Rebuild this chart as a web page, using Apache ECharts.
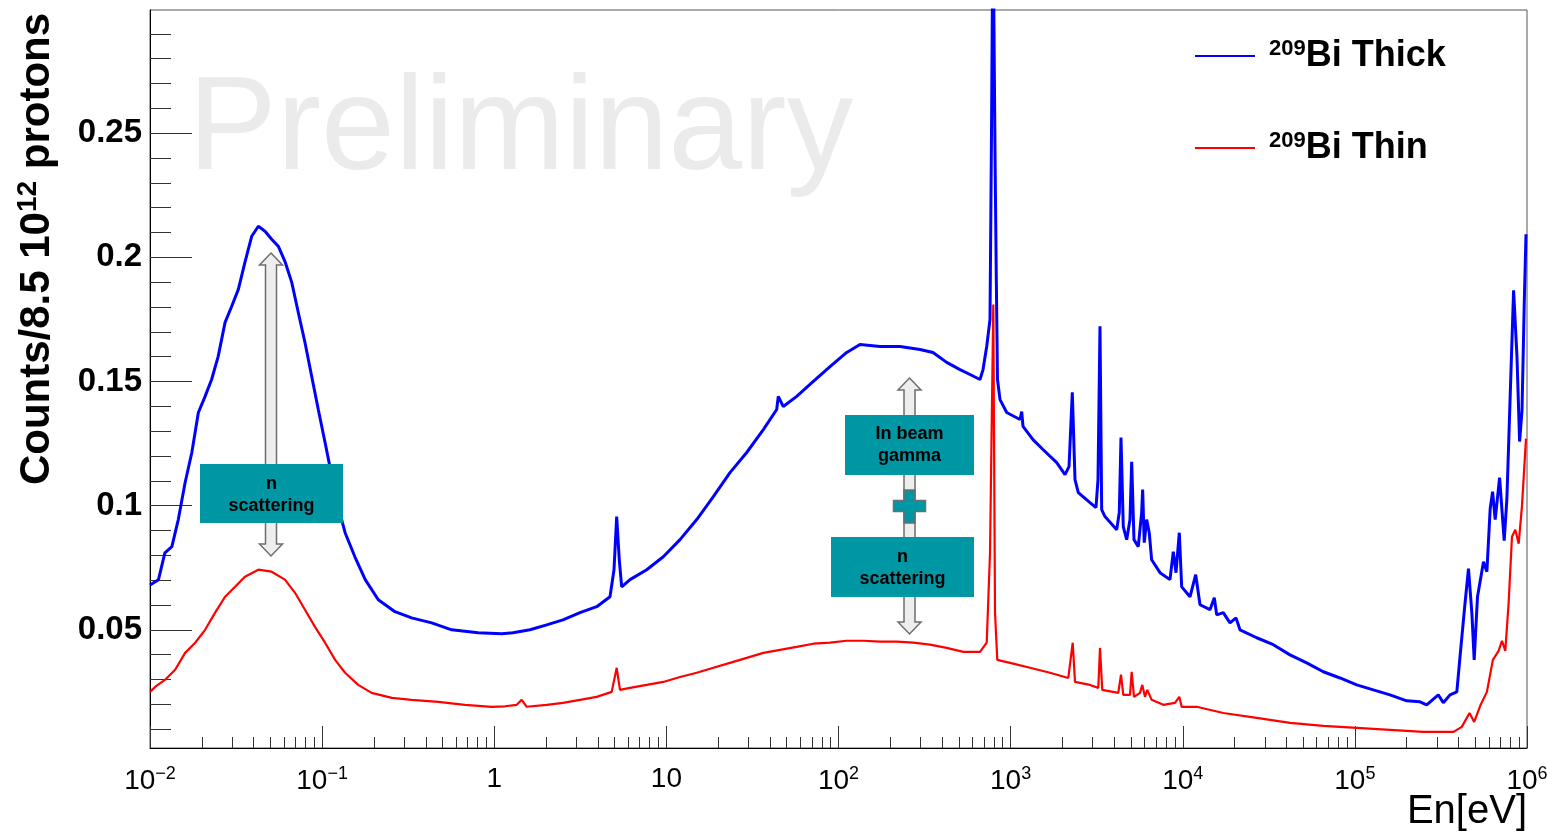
<!DOCTYPE html>
<html>
<head>
<meta charset="utf-8">
<script src="https://cdn.jsdelivr.net/npm/echarts@6/dist/echarts.min.js"></script>
<style>
  html, body { margin: 0; padding: 0; background: #fff; }
  #chart { width: 1547px; height: 838px; }
</style>
</head>
<body>
<div id="chart"></div>
<script>
// energies in eV, counts per 8.5e12 protons
const thickE = [0.01, 0.0112, 0.0122, 0.0134, 0.0146, 0.016, 0.0175, 0.0191, 0.0209, 0.0228, 0.0249, 0.0273, 0.0298, 0.0326, 0.0356, 0.039, 0.0426, 0.0466, 0.0509, 0.0557, 0.0608, 0.0666, 0.0727, 0.0795, 0.087, 0.095, 0.104, 0.114, 0.124, 0.136, 0.155, 0.178, 0.212, 0.265, 0.331, 0.433, 0.566, 0.805, 1.105, 1.285, 1.614, 2.017, 2.508, 3.149, 3.937, 4.704, 4.963, 5.144, 5.326, 5.5, 6.148, 7.686, 9.596, 12.0, 15.01, 18.74, 23.42, 29.29, 36.58, 43.75, 44.69, 47.78, 57.17, 71.4, 89.27, 111.6, 133.3, 174.2, 227.7, 297.4, 354, 425.2, 508, 580.8, 664, 691.2, 726.1, 759, 774.4, 790, 811.5, 825.8, 839, 867.7, 948.9, 1134, 1160, 1180, 1349, 1542, 1853, 2070, 2184, 2282, 2366, 2473, 2892, 3133, 3218, 3305, 3381, 3533, 4133, 4279, 4377, 4514, 4724, 4937, 5050, 5208, 5515, 5771, 5848, 5975, 6170, 6387, 6597, 7377, 8431, 8812, 9138, 9548, 9860, 11020, 11890, 12600, 14400, 15250, 15750, 17200, 18810, 20390, 21510, 26900, 33590, 42000, 52500, 65560, 81950, 102500, 128000, 160000, 200100, 238900, 261400, 305300, 326400, 357000, 391100, 408100, 436200, 457100, 478500, 493400, 515700, 558800, 584800, 611100, 631000, 653300, 693000, 737100, 764200, 799800, 835800, 874800, 905800, 935400, 964500, 986700];
const thickV = [0.068, 0.0702, 0.081, 0.0835, 0.0944, 0.1093, 0.1214, 0.1375, 0.144, 0.1508, 0.1601, 0.1738, 0.1802, 0.1871, 0.198, 0.2085, 0.2125, 0.2105, 0.2073, 0.2044, 0.1984, 0.1899, 0.1778, 0.1657, 0.152, 0.1387, 0.1254, 0.1117, 0.0996, 0.0891, 0.0794, 0.0702, 0.0621, 0.0573, 0.0548, 0.0528, 0.05, 0.0488, 0.0484, 0.0488, 0.05, 0.052, 0.054, 0.0569, 0.0593, 0.0633, 0.0742, 0.0956, 0.0782, 0.0673, 0.0702, 0.0742, 0.0794, 0.0863, 0.0944, 0.1036, 0.1133, 0.1214, 0.1306, 0.1387, 0.144, 0.1399, 0.144, 0.15, 0.156, 0.1617, 0.1649, 0.1641, 0.1641, 0.1629, 0.1617, 0.1577, 0.1548, 0.1528, 0.1508, 0.1548, 0.1641, 0.175, 0.2508, 0.34, 0.2423, 0.1911, 0.1508, 0.1427, 0.1375, 0.1347, 0.1379, 0.1319, 0.1266, 0.1226, 0.1173, 0.1125, 0.1157, 0.1456, 0.1105, 0.1052, 0.1012, 0.0992, 0.1105, 0.1722, 0.0984, 0.0956, 0.0903, 0.0972, 0.1274, 0.0915, 0.0863, 0.0944, 0.1177, 0.0863, 0.0835, 0.0972, 0.1065, 0.0851, 0.0944, 0.0891, 0.0782, 0.073, 0.0702, 0.0815, 0.073, 0.0891, 0.0673, 0.0633, 0.0722, 0.0601, 0.0581, 0.0629, 0.056, 0.0569, 0.0528, 0.0548, 0.05, 0.0468, 0.044, 0.0399, 0.0367, 0.0331, 0.0306, 0.0278, 0.0258, 0.0238, 0.0214, 0.021, 0.0198, 0.0238, 0.0206, 0.0238, 0.025, 0.0391, 0.0605, 0.0746, 0.0565, 0.0379, 0.0633, 0.0774, 0.0734, 0.0988, 0.1056, 0.0944, 0.1113, 0.0859, 0.1028, 0.1456, 0.1867, 0.1597, 0.1258, 0.1383, 0.1823, 0.2093];

const thinE = [0.01, 0.0107, 0.0122, 0.014, 0.016, 0.0183, 0.0209, 0.0239, 0.0273, 0.0312, 0.0356, 0.0426, 0.0509, 0.0608, 0.0696, 0.0795, 0.0909, 0.104, 0.119, 0.136, 0.162, 0.194, 0.254, 0.331, 0.473, 0.676, 0.967, 1.155, 1.35, 1.444, 1.544, 2.017, 2.51, 3.149, 3.937, 4.812, 5.144, 5.378, 6.148, 7.686, 9.596, 12.0, 15.01, 18.74, 23.42, 29.29, 36.58, 45.72, 57.17, 71.4, 89.27, 111.6, 139.4, 174.2, 217.8, 272, 340.1, 425.2, 531, 664, 726.1, 759, 793, 811.5, 836.6, 992, 1296, 1694, 2163, 2295, 2366, 2892, 3231, 3305, 3407, 4222, 4377, 4514, 4937, 5050, 5208, 5645, 5821, 6033, 6222, 6597, 7709, 9016, 9548, 9860, 12050, 17200, 26900, 42000, 65560, 102500, 160000, 249700, 374100, 418000, 463400, 493400, 534700, 584800, 633600, 683900, 715600, 747900, 781700, 818000, 855000, 894700, 935400, 986700];
const thinV = [0.025, 0.027, 0.0298, 0.0339, 0.0407, 0.0448, 0.05, 0.0569, 0.0633, 0.0673, 0.0714, 0.0742, 0.0734, 0.0702, 0.0649, 0.0581, 0.0512, 0.0448, 0.0379, 0.0327, 0.0278, 0.0246, 0.0226, 0.0218, 0.021, 0.0198, 0.019, 0.0192, 0.0198, 0.0218, 0.019, 0.0198, 0.0206, 0.0218, 0.023, 0.025, 0.0347, 0.0258, 0.0266, 0.0278, 0.029, 0.031, 0.0327, 0.0347, 0.0367, 0.0387, 0.0407, 0.0419, 0.0431, 0.0444, 0.0448, 0.0456, 0.0456, 0.0452, 0.0452, 0.0448, 0.044, 0.0427, 0.0411, 0.0411, 0.0448, 0.081, 0.181, 0.0569, 0.0379, 0.0367, 0.0347, 0.0327, 0.0306, 0.0448, 0.029, 0.0278, 0.0266, 0.0427, 0.0258, 0.0246, 0.0319, 0.0238, 0.0238, 0.0331, 0.023, 0.0246, 0.0278, 0.023, 0.0258, 0.0218, 0.0198, 0.0206, 0.023, 0.019, 0.019, 0.0165, 0.0145, 0.0125, 0.0113, 0.0105, 0.0097, 0.0089, 0.0089, 0.0109, 0.0165, 0.0129, 0.0194, 0.025, 0.0379, 0.0415, 0.0456, 0.0415, 0.0605, 0.0875, 0.0903, 0.0847, 0.1, 0.127];

// axis ticks
const xMajorTicks = [0.01, 0.1, 1, 10, 100, 1000, 10000, 100000, 1000000];
const xMinorTicks = [];
for (let d = -2; d < 6; d++) {
  for (let k = 2; k <= 9; k++) xMinorTicks.push(+(k * Math.pow(10, d)).toPrecision(3));
}
const yMajorTicks = [0.05, 0.1, 0.15, 0.2, 0.25];
const yMinorTicks = [0.01, 0.02, 0.03, 0.04, 0.06, 0.07, 0.08, 0.09, 0.11, 0.12, 0.13, 0.14, 0.16, 0.17, 0.18, 0.19, 0.21, 0.22, 0.23, 0.24, 0.26, 0.27, 0.28, 0.29];

const FONT = '"Liberation Sans", Arial, Helvetica, sans-serif';
const TEAL = '#0097a5';

function xLabel(v) {
  const e = Math.round(Math.log10(v));
  if (e === 0) return '{b|1}';
  if (e === 1) return '{b|10}';
  return '{b|10}{s|' + (e < 0 ? '\u2212' + (-e) : e) + '}';
}

function arrow(cx, top, bottom) {
  const hw = 11.5, sw = 5.5, hh = 12;
  return [[cx, top], [cx + hw, top + hh], [cx + sw, top + hh], [cx + sw, bottom - hh],
    [cx + hw, bottom - hh], [cx, bottom], [cx - hw, bottom - hh], [cx - sw, bottom - hh],
    [cx - sw, top + hh], [cx - hw, top + hh]];
}

const boxText = { font: 'bold 18px ' + FONT, fill: '#000', align: 'center', verticalAlign: 'middle', lineHeight: 22 };

const chart = echarts.init(document.getElementById('chart'));
const option = {
  animation: false,
  backgroundColor: '#fff',
  grid: { left: 150, top: 10, right: 20, bottom: 90, show: true, borderColor: '#555', borderWidth: 1,
    containLabel: false, outerBoundsMode: 'none' },
  legend: {
    orient: 'vertical', left: 1195, top: 38, padding: 0, itemWidth: 60, itemHeight: 2, itemGap: 56, icon: 'rect',
    data: ['209Bi Thick', '209Bi Thin'],
    formatter: n => '{s|209}{b|' + n.slice(3) + '}',
    textStyle: {
      color: '#000',
      rich: {
        s: { fontFamily: FONT, fontWeight: 'bold', fontSize: 22, color: '#000', padding: [0, 0, 14, 9] },
        b: { fontFamily: FONT, fontWeight: 'bold', fontSize: 36, color: '#000' }
      }
    }
  },
  xAxis: [{
    type: 'log', logBase: 10, min: 0.01, max: 1000000, position: 'bottom', onZero: false,
    axisLine: { onZero: false, lineStyle: { color: '#000', width: 1 } },
    axisTick: { inside: true, length: 22, customValues: xMajorTicks, lineStyle: { color: '#333' } },
    axisLabel: {
      customValues: xMajorTicks, margin: 17, formatter: xLabel,
      rich: {
        b: { fontFamily: FONT, fontSize: 28, color: '#000' },
        s: { fontFamily: FONT, fontSize: 18, color: '#000', padding: [0, 0, 15, 0] }
      }
    },
    splitLine: { show: false }
  }, {
    type: 'log', logBase: 10, min: 0.01, max: 1000000, position: 'bottom', offset: 0,
    axisLine: { show: false, onZero: false },
    axisTick: { inside: true, length: 11, customValues: xMinorTicks, lineStyle: { color: '#333' } },
    axisLabel: { show: false },
    splitLine: { show: false }
  }],
  yAxis: [{
    type: 'value', min: 0.0024, max: 0.2996, position: 'left',
    axisLine: { show: true, lineStyle: { color: '#000', width: 1 } },
    axisTick: { show: true, inside: true, length: 42, customValues: yMajorTicks, lineStyle: { color: '#333' } },
    axisLabel: {
      customValues: yMajorTicks, margin: 8,
      fontFamily: FONT, fontWeight: 'bold', fontSize: 33, color: '#000'
    },
    splitLine: { show: false }
  }, {
    type: 'value', min: 0.0024, max: 0.2996, position: 'left', offset: 0,
    axisLine: { show: false },
    axisTick: { show: true, inside: true, length: 21, customValues: yMinorTicks, lineStyle: { color: '#333' } },
    axisLabel: { show: false },
    splitLine: { show: false }
  }],
  series: [{
    name: '209Bi Thick', type: 'line', showSymbol: false, symbol: 'none',
    xAxisIndex: 0, yAxisIndex: 0,
    itemStyle: { color: '#0000ff' },
    lineStyle: { color: '#0000ff', width: 3 },
    data: thickE.map((e, i) => [e, thickV[i]])
  }, {
    name: '209Bi Thin', type: 'line', showSymbol: false, symbol: 'none',
    xAxisIndex: 0, yAxisIndex: 0,
    itemStyle: { color: '#ff0000' },
    lineStyle: { color: '#ff0000', width: 2.2 },
    data: thinE.map((e, i) => [e, thinV[i]])
  }],
  graphic: [
    { type: 'text', x: 188, y: 132, z: 1, silent: true,
      style: { text: 'Preliminary', font: '133px ' + FONT, fill: '#ebebeb', align: 'left', verticalAlign: 'middle' } },
    { type: 'text', x: 37, y: 249, rotation: Math.PI / 2, z: 100,
      style: {
        text: '{m|Counts/8.5 10}{s|12}{m| protons}', align: 'center', verticalAlign: 'middle',
        rich: {
          m: { fontFamily: FONT, fontWeight: 'bold', fontSize: 42, fill: '#000' },
          s: { fontFamily: FONT, fontWeight: 'bold', fontSize: 28, fill: '#000', padding: [0, 0, 18, 0] }
        }
      } },
    { type: 'text', x: 1527, y: 812, z: 100,
      style: { text: 'En[eV]', font: '40px ' + FONT, fill: '#000', align: 'right', verticalAlign: 'middle' } },

    // annotation: n scattering (left peak)
    { type: 'polygon', z: 100, shape: { points: arrow(271, 253, 556) },
      style: { fill: '#eeeeee', stroke: '#6e6e6e', lineWidth: 1.5 } },
    { type: 'rect', z: 101, shape: { x: 200, y: 464, width: 143, height: 59 }, style: { fill: TEAL } },
    { type: 'text', z: 102, x: 271.5, y: 495, style: Object.assign({ text: 'n\nscattering' }, boxText) },

    // annotation: in beam gamma + n scattering
    { type: 'polygon', z: 100, shape: { points: arrow(909.5, 378, 634) },
      style: { fill: '#eeeeee', stroke: '#6e6e6e', lineWidth: 1.5 } },
    { type: 'rect', z: 101, shape: { x: 845, y: 415, width: 129, height: 60 }, style: { fill: TEAL } },
    { type: 'text', z: 102, x: 909.5, y: 445, style: Object.assign({ text: 'In beam\ngamma' }, boxText) },
    { type: 'polygon', z: 101,
      shape: { points: [[904, 490], [915, 490], [915, 500.5], [925.5, 500.5], [925.5, 511.5], [915, 511.5],
        [915, 523], [904, 523], [904, 511.5], [893.5, 511.5], [893.5, 500.5], [904, 500.5]] },
      style: { fill: TEAL, stroke: '#6e6e6e', lineWidth: 1.5 } },
    { type: 'rect', z: 101, shape: { x: 831, y: 537, width: 143, height: 60 }, style: { fill: TEAL } },
    { type: 'text', z: 102, x: 902.5, y: 568, style: Object.assign({ text: 'n\nscattering' }, boxText) }
  ]
};
chart.setOption(option);
</script>
</body>
</html>
